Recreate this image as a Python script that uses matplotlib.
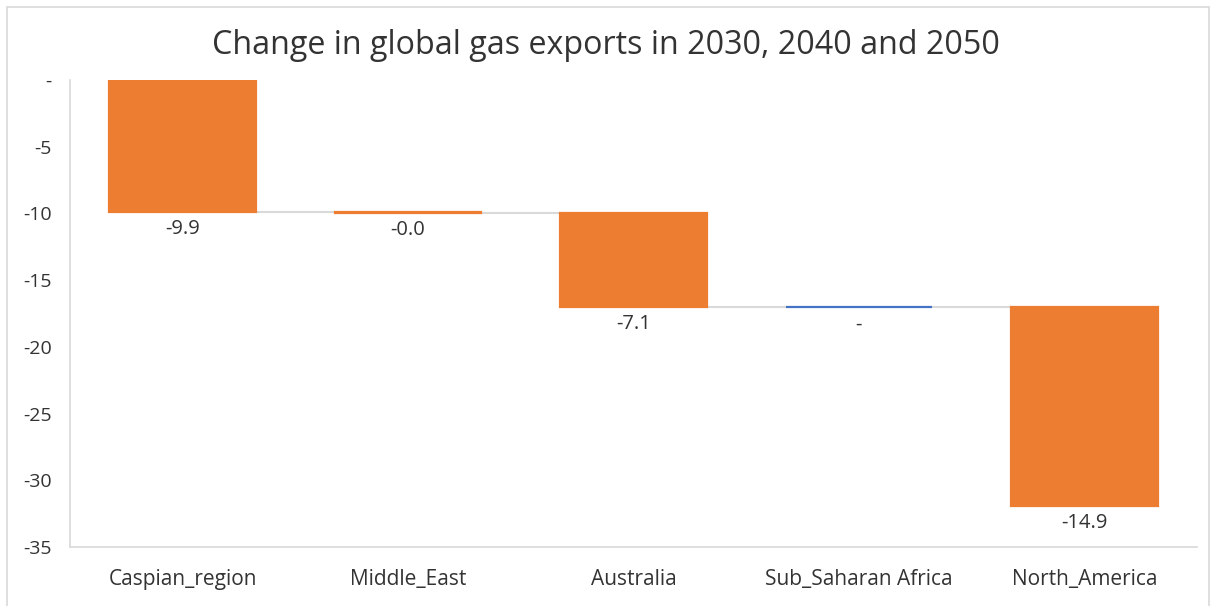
"""
Waterfall chart: change in global gas exports by region.
Output: out.png
"""

import matplotlib.pyplot as plt
from matplotlib.patches import Rectangle

# data
regions = ['Caspian_region', 'Middle_East', 'Australia', 'Sub_Saharan Africa', 'North_America']
changes = [-9.9, -0.04, -7.1, 0.0, -14.9]
y_ticks = [0, -5, -10, -15, -20, -25, -30, -35]

ORANGE = '#ED7D31'
BLUE = '#4472C4'
GREY = '#D9D9D9'
TEXT = '#333333'


def fmt(v, digits=1):
    # Excel-style number format: zero shown as a dash
    if v == 0:
        return '-'
    return f'{v:.{digits}f}'


def main():
    plt.rcParams['font.family'] = ['Open Sans', 'DejaVu Sans']

    fig = plt.figure(figsize=(12.12, 6.06), dpi=100)
    ax = fig.add_axes([70 / 1212, 1 - 547 / 606, 1127 / 1212, 467 / 606])

    width = 0.65
    level = 0.0
    ends = []
    for i, v in enumerate(changes):
        color = BLUE if v >= 0 else ORANGE
        ax.bar(i, v, bottom=level, width=width, color=color,
               edgecolor=color, linewidth=1.6, zorder=3)
        end = level + v
        # label sits just under the lower end of the bar
        ax.annotate(fmt(v), (i, min(level, end)), xytext=(0, -5),
                    textcoords='offset points', ha='center', va='top',
                    fontsize=14.5, color=TEXT)
        ends.append(end)
        level = end

    # connector lines between bars
    for i in range(len(changes) - 1):
        ax.plot([i + width / 2, i + 1 - width / 2], [ends[i], ends[i]],
                color=GREY, linewidth=1.5, zorder=2)

    ax.set_xlim(-0.5, len(regions) - 0.5)
    ax.set_ylim(-35, 0)
    ax.set_yticks(y_ticks)
    ax.set_yticklabels([fmt(t, 0) for t in y_ticks])
    ax.set_xticks(range(len(regions)))
    ax.set_xticklabels(regions)
    ax.tick_params(length=0, labelsize=14, colors=TEXT)
    ax.tick_params(axis='x', labelsize=15, pad=16)
    ax.tick_params(axis='y', pad=13)

    for side in ['top', 'right']:
        ax.spines[side].set_visible(False)
    for side in ['left', 'bottom']:
        ax.spines[side].set_color(GREY)
        ax.spines[side].set_linewidth(1.2)

    fig.text(0.5, 1 - 45 / 606, 'Change in global gas exports in 2030, 2040 and 2050',
             ha='center', va='center', fontsize=23.2, color=TEXT)

    # chart area border
    fig.patches.append(Rectangle((7 / 1212, -0.01), 1202 / 1212, 1 - 7 / 606 + 0.01,
                                 transform=fig.transFigure, fill=False,
                                 edgecolor=GREY, linewidth=1.2))

    fig.savefig('out.png', dpi=100, facecolor='white')


if __name__ == '__main__':
    main()
